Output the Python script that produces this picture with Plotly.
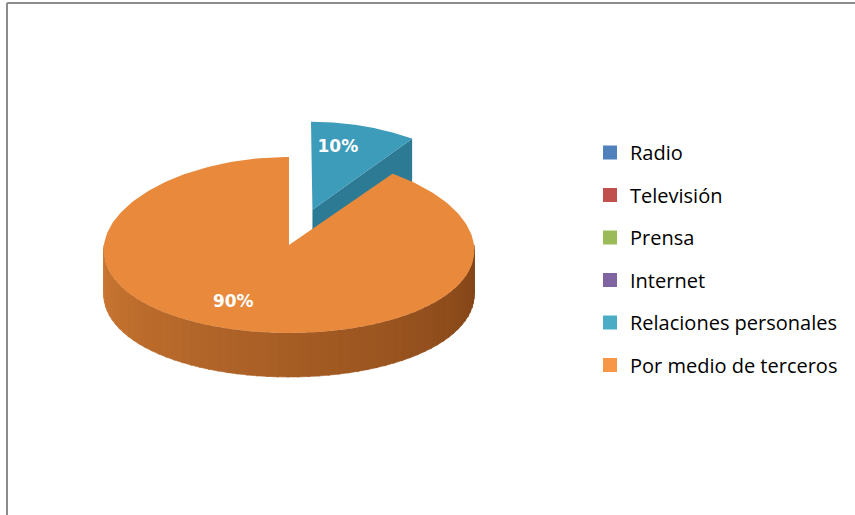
import numpy as np
import plotly.graph_objects as go

# Data
categories = ["Radio", "Televisión", "Prensa", "Internet",
              "Relaciones personales", "Por medio de terceros"]
values = [0, 0, 0, 0, 10, 90]
colors = ["#4F81BD", "#C0504D", "#9BBB59", "#8064A2", "#4BACC6", "#F79646"]
explode = [0, 0, 0, 0, 0.42, 0]
label_turn = [0, 0, 0, 0, -0.1, 0.1]   # small angular nudge of each value label

# Styling of the tilted pie (pixel space)
top_colors = {"Relaciones personales": "#3D9CBA", "Por medio de terceros": "#E8893C"}
face_colors = {"Relaciones personales": "#2D7A95", "Por medio de terceros": "#B8652A"}
wall_light = {"Relaciones personales": (60, 150, 180), "Por medio de terceros": (218, 130, 56)}
wall_dark = {"Relaciones personales": (30, 95, 120), "Por medio de terceros": (128, 66, 22)}

W, H = 855, 515
CX, CY = 289, 245
RX, RY = 185, 88
DEPTH = 44
PERSP = 0.06   # back of the disc drawn slightly narrower than the front

fig = go.Figure()


def rim(theta, cx, cy):
    return cx + RX * np.sin(theta), cy - RY * np.cos(theta)


def project(xs, ys):
    xs = np.asarray(xs, dtype=float)
    ys = np.asarray(ys, dtype=float)
    return CX + (xs - CX) * (1 + PERSP * (ys - CY) / RY), ys


def poly(xs, ys, color, drop=None, edge=0):
    px, py = project(xs, ys)
    if drop is not None:
        py = py + np.asarray(drop, dtype=float)
    fig.add_trace(go.Scatter(
        x=list(px) + [px[0]], y=list(py) + [py[0]], mode="lines",
        fill="toself", fillcolor=color, line=dict(width=edge, color=color),
        hoverinfo="skip", showlegend=False))


def mix(c1, c2, t):
    return "rgb({},{},{})".format(*[int(round(a + (b - a) * t)) for a, b in zip(c1, c2)])


total = float(sum(values))
bounds = np.concatenate([[0.0], np.cumsum(values) / total]) * 2 * np.pi
slices = []
for i, name in enumerate(categories):
    a, b = bounds[i], bounds[i + 1]
    if b - a <= 0:
        continue
    mid = (a + b) / 2
    ox = explode[i] * RX * np.sin(mid)
    oy = -explode[i] * RY * np.cos(mid)
    slices.append((i, name, a, b, mid, CX + ox, CY + oy))

# back slices first, front slices last
slices.sort(key=lambda s: -np.cos(s[4]))

walls = [0, 0, DEPTH, DEPTH]
label_pos = []
for i, name, a, b, mid, cx, cy in slices:
    # radial faces turned toward the viewer
    for edge, sign in ((a, -1), (b, 1)):
        if sign * np.sin(edge) > 1e-6:
            ex, ey = rim(edge, cx, cy)
            poly([cx, ex, ex, cx], [cy, ey, ey, cy], face_colors[name], walls)
    # outer wall on the front half, shaded left to right
    lo, hi = max(a, np.pi / 2), min(b, 3 * np.pi / 2)
    if hi > lo:
        n = 60
        ts = np.linspace(lo, hi, n + 1)
        for k in range(n):
            t0, t1 = ts[k], min(ts[k + 1] + 0.01, hi)
            x0, y0 = rim(t0, cx, cy)
            x1, y1 = rim(t1, cx, cy)
            shade = (3 * np.pi / 2 - (t0 + t1) / 2) / np.pi
            c = mix(wall_light[name], wall_dark[name], 0.15 + 0.85 * shade)
            poly([x0, x1, x1, x0], [y0, y1, y1, y0], c, walls, edge=0.6)
    # top face
    ts = np.linspace(a, b, 240)
    xs, ys = rim(ts, cx, cy)
    poly([cx] + list(xs), [cy] + list(ys), top_colors[name])
    ang = mid + label_turn[i]
    lx, ly = cx + 0.72 * RX * np.sin(ang), cy - 0.72 * RY * np.cos(ang)
    label_pos.append((lx, ly, "{:.0f}%".format(values[i] / total * 100)))

# percentage labels
lx, ly = project([p[0] for p in label_pos], [p[1] for p in label_pos])
fig.add_trace(go.Scatter(
    x=lx, y=ly, text=[p[2] for p in label_pos], mode="text",
    textfont=dict(family="DejaVu Sans", size=17, color="white", weight="bold"),
    hoverinfo="skip", showlegend=False))

# legend entries
for name, col in zip(categories, colors):
    fig.add_trace(go.Scatter(
        x=[None], y=[None], mode="markers", name=name, legendgroup=name,
        marker=dict(symbol="square", size=14, color=col)))

fig.update_layout(
    width=W, height=H,
    margin=dict(l=0, r=0, t=0, b=0),
    paper_bgcolor="white", plot_bgcolor="white",
    xaxis=dict(range=[0, W], visible=False, fixedrange=True),
    yaxis=dict(range=[H, 0], visible=False, fixedrange=True),
    legend=dict(x=590 / W, y=1 - 133 / H, xanchor="left", yanchor="top",
                font=dict(family="Open Sans", size=20, color="#000000"),
                tracegroupgap=13.5, bgcolor="rgba(0,0,0,0)"),
    shapes=[
        dict(type="line", xref="x", yref="y", x0=7, x1=7, y0=3, y1=H,
             line=dict(color="#8c8c8c", width=2)),
        dict(type="line", xref="x", yref="y", x0=7, x1=W, y0=3, y1=3,
             line=dict(color="#8c8c8c", width=2)),
    ],
)

fig.write_html("out.html")
